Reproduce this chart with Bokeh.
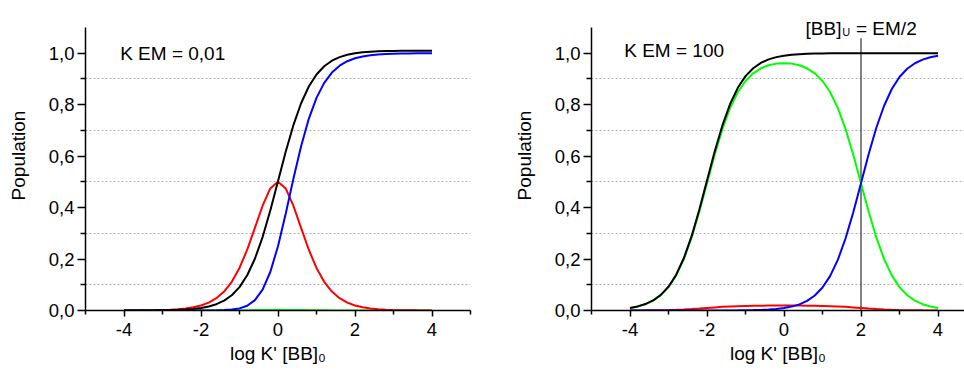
from bokeh.plotting import figure
from bokeh.layouts import row
from bokeh.models import Label, FixedTicker, CustomJSTickFormatter, Range1d
from bokeh.embed import file_html
from bokeh.resources import INLINE

# ---------------- data ----------------
x_vals = [-4.0, -3.8, -3.6, -3.4, -3.2, -3.0, -2.8, -2.6, -2.4, -2.2,
          -2.0, -1.8, -1.6, -1.4, -1.2, -1.0, -0.8, -0.6, -0.4, -0.2,
          0.0, 0.2, 0.4, 0.6, 0.8, 1.0, 1.2, 1.4, 1.6, 1.8,
          2.0, 2.2, 2.4, 2.6, 2.8, 3.0, 3.2, 3.4, 3.6, 3.8, 4.0]

# Left panel: K EM = 0,01
left_red = [0.0002, 0.0003, 0.0005, 0.0008, 0.0013, 0.0020, 0.0032, 0.0050, 0.0079, 0.0125,
            0.0196, 0.0307, 0.0478, 0.0737, 0.1117, 0.1653, 0.2362, 0.3210, 0.4073, 0.4744,
            0.5000, 0.4744, 0.4073, 0.3210, 0.2362, 0.1653, 0.1117, 0.0737, 0.0478, 0.0307,
            0.0196, 0.0125, 0.0079, 0.0050, 0.0032, 0.0020, 0.0013, 0.0008, 0.0005, 0.0003, 0.0002]
left_blue = [0.0000, 0.0000, 0.0000, 0.0000, 0.0000, 0.0000, 0.0000, 0.0000, 0.0000, 0.0000,
             0.0001, 0.0002, 0.0006, 0.0015, 0.0035, 0.0083, 0.0187, 0.0403, 0.0811, 0.1497,
             0.2500, 0.3759, 0.5117, 0.6387, 0.7451, 0.8265, 0.8847, 0.9249, 0.9516, 0.9690,
             0.9803, 0.9875, 0.9921, 0.9950, 0.9968, 0.9980, 0.9987, 0.9992, 0.9995, 0.9997, 0.9998]
left_black = [0.0001, 0.0002, 0.0003, 0.0004, 0.0006, 0.0010, 0.0016, 0.0025, 0.0040, 0.0063,
              0.0099, 0.0156, 0.0245, 0.0383, 0.0594, 0.0910, 0.1370, 0.2012, 0.2855, 0.3884,
              0.5025, 0.6169, 0.7204, 0.8056, 0.8707, 0.9174, 0.9495, 0.9710, 0.9850, 0.9941,
              1.0000, 1.0036, 1.0060, 1.0074, 1.0084, 1.0090, 1.0094, 1.0096, 1.0097, 1.0098, 1.0099]
left_green = [0.0000, 0.0000, 0.0000, 0.0000, 0.0000, 0.0000, 0.0000, 0.0000, 0.0000, 0.0000,
              0.0001, 0.0002, 0.0002, 0.0004, 0.0006, 0.0008, 0.0012, 0.0016, 0.0020, 0.0024,
              0.0025, 0.0024, 0.0020, 0.0016, 0.0012, 0.0008, 0.0006, 0.0004, 0.0002, 0.0002,
              0.0001, 0.0000, 0.0000, 0.0000, 0.0000, 0.0000, 0.0000, 0.0000, 0.0000, 0.0000, 0.0000]

# Right panel: K EM = 100
right_green = [0.0099, 0.0156, 0.0245, 0.0383, 0.0593, 0.0907, 0.1364, 0.2000, 0.2831, 0.3839,
               0.4950, 0.6057, 0.7051, 0.7864, 0.8481, 0.8921, 0.9219, 0.9414, 0.9532, 0.9596,
               0.9615, 0.9596, 0.9532, 0.9414, 0.9219, 0.8921, 0.8481, 0.7864, 0.7051, 0.6057,
               0.4950, 0.3839, 0.2831, 0.2000, 0.1364, 0.0907, 0.0593, 0.0383, 0.0245, 0.0156, 0.0099]
right_red = [0.0002, 0.0003, 0.0005, 0.0008, 0.0012, 0.0018, 0.0027, 0.0040, 0.0057, 0.0077,
             0.0099, 0.0121, 0.0141, 0.0157, 0.0170, 0.0178, 0.0184, 0.0188, 0.0191, 0.0192,
             0.0192, 0.0192, 0.0191, 0.0188, 0.0184, 0.0178, 0.0170, 0.0157, 0.0141, 0.0121,
             0.0099, 0.0077, 0.0057, 0.0040, 0.0027, 0.0018, 0.0012, 0.0008, 0.0005, 0.0003, 0.0002]
right_blue = [0.0000, 0.0000, 0.0000, 0.0000, 0.0000, 0.0000, 0.0000, 0.0000, 0.0000, 0.0000,
              0.0000, 0.0001, 0.0002, 0.0003, 0.0005, 0.0009, 0.0015, 0.0024, 0.0038, 0.0061,
              0.0096, 0.0152, 0.0239, 0.0375, 0.0582, 0.0892, 0.1344, 0.1976, 0.2807, 0.3822,
              0.4950, 0.6084, 0.7112, 0.7960, 0.8608, 0.9074, 0.9395, 0.9610, 0.9750, 0.9841, 0.9899]
right_black = [0.0101, 0.0159, 0.0250, 0.0390, 0.0605, 0.0926, 0.1392, 0.2040, 0.2888, 0.3916,
               0.5050, 0.6179, 0.7193, 0.8025, 0.8656, 0.9108, 0.9418, 0.9625, 0.9761, 0.9848,
               0.9904, 0.9940, 0.9962, 0.9976, 0.9985, 0.9991, 0.9995, 0.9997, 0.9998, 0.9999,
               1.0000, 1.0000, 1.0000, 1.0000, 1.0000, 1.0000, 1.0000, 1.0000, 1.0000, 1.0000, 1.0000]

x_major = [-4, -2, 0, 2, 4]
x_minor = [-5, -3, -1, 1, 3, 5]
y_major = [0.0, 0.2, 0.4, 0.6, 0.8, 1.0]
y_minor = [0.1, 0.3, 0.5, 0.7, 0.9]
y_axis_top = 1.1

left_title = "K EM = 0,01"
right_title = "K EM = 100"
marker_x = 2.0           # [BB]U = EM/2
marker_top = 1.058
y_label = "Population"
x_label = "log K' [BB]\u2080"

FONT = "Liberation Sans"
FS = "19px"
TICK_FS = "18.5px"
PX_PER_Y = 283 / 1.1     # frame scale used in the reference
PX_PER_X = 38.5


def make_panel(width, left_border, right_border, x_end):
    p = figure(width=width, height=370, output_backend="svg", toolbar_location=None,
               title=None, x_range=Range1d(-5, x_end), y_range=Range1d(0, 310 / PX_PER_Y),
               min_border_left=left_border, min_border_right=right_border,
               min_border_top=0, min_border_bottom=60,
               frame_width=width - left_border - right_border, frame_height=310)
    p.outline_line_color = None
    p.background_fill_color = "white"
    p.border_fill_color = "white"
    p.xgrid.visible = False
    p.ygrid.grid_line_color = None
    p.ygrid.minor_grid_line_color = "#b0b0b0"
    p.ygrid.minor_grid_line_dash = "2 2"
    p.ygrid.minor_grid_line_width = 1

    p.xaxis.ticker = FixedTicker(ticks=x_major, minor_ticks=x_minor)
    p.yaxis.ticker = FixedTicker(ticks=y_major, minor_ticks=y_minor)
    p.yaxis.bounds = (0, y_axis_top)
    p.xaxis.formatter = CustomJSTickFormatter(code="return tick.toFixed(0);")
    p.yaxis.formatter = CustomJSTickFormatter(code="return tick.toFixed(1).replace('.', ',');")
    for ax in (p.xaxis, p.yaxis):
        ax.axis_line_color = "black"
        ax.axis_line_width = 1.5
        ax.major_tick_line_color = "black"
        ax.major_tick_line_width = 1.5
        ax.minor_tick_line_color = "black"
        ax.minor_tick_line_width = 1.5
        ax.major_tick_in = 0
        ax.minor_tick_in = 0
        ax.major_label_text_font = FONT
        ax.major_label_text_font_size = TICK_FS
        ax.major_label_text_color = "black"
        ax.axis_label_text_font = FONT
        ax.axis_label_text_font_size = FS
        ax.axis_label_text_font_style = "normal"
        ax.axis_label_text_color = "black"
    p.yaxis.major_tick_out = 8
    p.yaxis.minor_tick_out = 5
    p.yaxis.major_label_standoff = 3
    p.yaxis.axis_label = y_label
    p.yaxis.axis_label_standoff = 17
    p.xaxis.major_tick_out = 6
    p.xaxis.minor_tick_out = 4
    p.xaxis.major_label_standoff = 6
    p.xaxis.axis_label = x_label
    p.xaxis.axis_label_standoff = 4
    return p


def draw(p, green, red, blue, black):
    p.line(x_vals, green, line_color="#00ff00", line_width=2)
    p.line(x_vals, red, line_color="#ff0000", line_width=2)
    p.line(x_vals, blue, line_color="#0000ff", line_width=2)
    p.line(x_vals, black, line_color="#000000", line_width=2)


# left panel
p1 = make_panel(480, 85, 10, 5)
draw(p1, left_green, left_red, left_blue, left_black)
p1.add_layout(Label(x=-4.1, y=0.997, text=left_title, text_align="left", text_baseline="middle",
                    text_font=FONT, text_font_size=FS, text_color="black"))

# right panel
p2 = make_panel(484, 111, 0, -5 + 373 / PX_PER_X)
p2.segment(x0=[marker_x], y0=[0], x1=[marker_x], y1=[marker_top],
           line_color="#303030", line_width=1.2)
draw(p2, right_green, right_red, right_blue, right_black)
p2.add_layout(Label(x=-4.15, y=1.01, text=right_title, text_align="left", text_baseline="middle",
                    text_font=FONT, text_font_size=FS, text_color="black"))
# "[BB]U = EM/2" with subscript U
p2.add_layout(Label(x=marker_x - 1.44, y=1.096, text="[BB]", text_align="left",
                    text_baseline="alphabetic", text_font=FONT, text_font_size=FS,
                    text_color="black"))
p2.add_layout(Label(x=marker_x - 0.49, y=1.081, text="U", text_align="left",
                    text_baseline="alphabetic", text_font=FONT, text_font_size="11px",
                    text_color="black"))
p2.add_layout(Label(x=marker_x - 0.13, y=1.096, text="= EM/2", text_align="left",
                    text_baseline="alphabetic", text_font=FONT, text_font_size=FS,
                    text_color="black"))

layout = row(p1, p2, spacing=0)
open("out.html", "w").write(file_html(layout, INLINE))
